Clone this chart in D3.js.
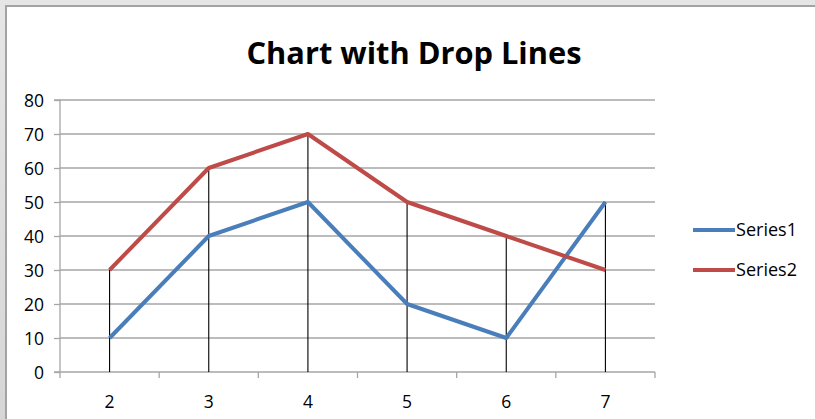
<!DOCTYPE html>
<html><head><meta charset="utf-8">
<script src="https://cdn.jsdelivr.net/npm/d3@7"></script>
<style>body{margin:0;background:#fff}svg{display:block}</style>
</head><body>
<script>
const categories = ["2","3","4","5","6","7"];
const series1 = [10,40,50,20,10,50];
const series2 = [30,60,70,50,40,30];
const seriesNames = ["Series1","Series2"];
const colors = ["#4a7ebb","#be4b48"];
const yTicks = [0,10,20,30,40,50,60,70,80];

(function(){
const W=815,H=419;
const svg=d3.select("body").append("svg").attr("width",W).attr("height",H);
const font="'Open Sans', Lato, sans-serif";
const fs=17.5;

// window frame
const grad=svg.append("defs").append("linearGradient").attr("id","g").attr("x1",0).attr("y1",0).attr("x2",0).attr("y2",1);
grad.append("stop").attr("offset",0).attr("stop-color","#e6e6e6");
grad.append("stop").attr("offset",1).attr("stop-color","#d6d6d6");
svg.append("rect").attr("width",W).attr("height",H).attr("fill","url(#g)");
svg.append("rect").attr("x",5).attr("y",5).attr("width",W-5).attr("height",H-5).attr("fill","#a3a3a3");
svg.append("rect").attr("x",7).attr("y",7).attr("width",W-7).attr("height",H-7).attr("fill","#fff");

const pl=60,pr=655,pt=100,pb=372;
const x=d3.scaleBand().domain(categories).range([pl,pr]);
const y=d3.scaleLinear().domain([0,80]).range([pb,pt]);

// gridlines
svg.append("g").selectAll("line").data(yTicks.filter(d=>d>0)).join("line")
  .attr("x1",pl).attr("x2",pr).attr("y1",d=>y(d)).attr("y2",d=>y(d))
  .attr("stroke","#a6a6a6").attr("stroke-width",1.3);

// axes
const yAxis=d3.axisLeft(y).tickValues(yTicks).tickSize(6).tickPadding(10);
const gy=svg.append("g").attr("transform",`translate(${pl},0)`).call(yAxis);
gy.select(".domain").attr("stroke","#a6a6a6").attr("stroke-width",1.3).attr("d",`M-6,${pt}H0V${pb}`);
gy.selectAll(".tick line").attr("stroke","#a6a6a6").attr("stroke-width",1.3);
gy.selectAll("text").attr("font-family",font).attr("font-size",fs).attr("fill","#000").attr("dy","0.36em");

const gx=svg.append("g").attr("transform",`translate(0,${pb})`);
gx.append("line").attr("x1",pl-6).attr("x2",pr).attr("y1",0).attr("y2",0).attr("stroke","#a6a6a6").attr("stroke-width",1.3);
const bounds=categories.map(c=>x(c)).concat([pr]);
gx.selectAll("line.t").data(bounds).join("line").attr("class","t")
  .attr("x1",d=>d).attr("x2",d=>d).attr("y1",0).attr("y2",6).attr("stroke","#a6a6a6").attr("stroke-width",1.3);
gx.selectAll("text").data(categories).join("text")
  .attr("x",d=>x(d)+x.bandwidth()/2).attr("y",36).attr("text-anchor","middle")
  .attr("font-family",font).attr("font-size",fs).text(d=>d);

// drop lines
const cx=c=>x(c)+x.bandwidth()/2;
svg.append("g").selectAll("line").data(categories).join("line")
  .attr("x1",cx).attr("x2",cx)
  .attr("y1",(c,i)=>y(Math.max(series1[i],series2[i]))).attr("y2",pb)
  .attr("stroke","#000").attr("stroke-width",1.1);

// series
const line=d3.line().x((d,i)=>cx(categories[i])).y(d=>y(d));
[series1,series2].forEach((s,k)=>{
  svg.append("path").datum(s).attr("d",line).attr("fill","none")
    .attr("stroke",colors[k]).attr("stroke-width",4).attr("stroke-linejoin","round");
});

// legend
seriesNames.forEach((n,k)=>{
  const ly=230+k*40;
  svg.append("line").attr("x1",693).attr("x2",735).attr("y1",ly).attr("y2",ly)
    .attr("stroke",colors[k]).attr("stroke-width",4);
  svg.append("text").attr("x",736).attr("y",ly+6).attr("font-family",font).attr("font-size",fs)
    .attr("textLength",61).attr("lengthAdjust","spacingAndGlyphs").text(n);
});

// title
svg.append("text").attr("x",414).attr("y",64).attr("text-anchor","middle")
  .attr("font-family",font).attr("font-weight","bold").attr("font-size",30)
  .attr("textLength",335).attr("lengthAdjust","spacingAndGlyphs")
  .text("Chart with Drop Lines");
})();
</script>
</body></html>
